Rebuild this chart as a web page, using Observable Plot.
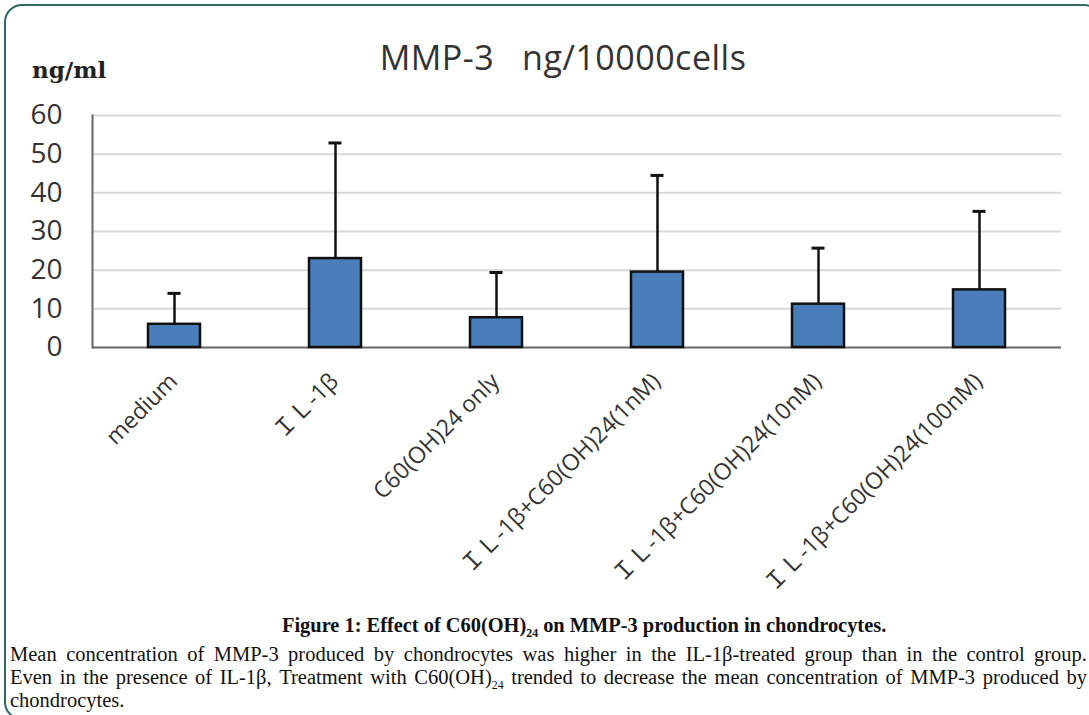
<!DOCTYPE html>
<html><head><meta charset="utf-8">
<script src="https://cdn.jsdelivr.net/npm/d3@7"></script>
<script src="https://cdn.jsdelivr.net/npm/@observablehq/plot@0.6"></script>
<style>
html,body{margin:0;padding:0;background:#fff;}
body{width:1089px;height:715px;overflow:hidden;position:relative;}
#frame{position:absolute;left:4px;top:4px;width:1098px;height:716px;border:2px solid #2e6a5f;border-radius:18px;box-sizing:border-box;pointer-events:none;}
#title{position:absolute;left:0;width:1126px;text-align:center;top:40px;font-family:'Open Sans',sans-serif;font-size:34px;line-height:34px;white-space:pre;color:#333;letter-spacing:0.5px;}
#unit{position:absolute;left:32px;top:58px;font-family:'DejaVu Serif',serif;font-weight:bold;font-size:23px;line-height:23px;color:#222;}
#chart{position:absolute;left:0;top:90px;}
.cap{position:absolute;font-family:'Liberation Serif',serif;color:#111;white-space:nowrap;}
#capTitle{left:282px;top:615px;font-weight:bold;font-size:20.4px;line-height:20px;}
.body{left:10px;width:1077px;font-size:20.5px;line-height:20.5px;height:20.5px;text-align:justify;text-align-last:justify;white-space:normal;word-spacing:-2px;}
sub{font-size:0.58em;vertical-align:-0.4em;line-height:0;}
</style>
</head><body>
<div id="frame"></div>
<div id="title"></div>
<div id="unit"></div>
<div id="chart"></div>
<div id="capTitle" class="cap"></div>
<div id="cap1" class="cap body"></div>
<div id="cap2" class="cap body"></div>
<div id="cap3" class="cap" style="left:10px;top:689.8px;font-size:20.5px;line-height:20.5px;"></div>
<script>
const chartTitle = "MMP-3   ng/10000cells";
const unitLabel = "ng/ml";
const categories = ["medium", "ＩＬ-1β", "C60(OH)24 only", "ＩＬ-1β+C60(OH)24(1nM)", "ＩＬ-1β+C60(OH)24(10nM)", "ＩＬ-1β+C60(OH)24(100nM)"];
const means = [6.0, 23.0, 7.7, 19.5, 11.2, 14.9];
const sds = [8.0, 29.9, 11.7, 25.0, 14.5, 20.3];
const yTicks = [0, 10, 20, 30, 40, 50, 60];
const captionTitle = "Figure 1: Effect of C60(OH)<sub>24</sub> on MMP-3 production in chondrocytes.";
const captionLines = [
  "Mean concentration of MMP-3 produced by chondrocytes was higher in the IL-1β-treated group than in the control group.",
  "Even in the presence of IL-1β, Treatment with C60(OH)<sub>24</sub> trended to decrease the mean concentration of MMP-3 produced by",
  "chondrocytes."
];

document.getElementById("title").textContent = chartTitle;
document.getElementById("unit").textContent = unitLabel;
document.getElementById("capTitle").innerHTML = captionTitle;
const c1 = document.getElementById("cap1"); c1.innerHTML = captionLines[0]; c1.style.top = "644.3px";
const c2 = document.getElementById("cap2"); c2.innerHTML = captionLines[1]; c2.style.top = "667.1px";
document.getElementById("cap3").innerHTML = captionLines[2];

const data = categories.map((c, i) => ({cat: c, mean: means[i], upper: means[i] + sds[i]}));
const font = "'Open Sans','Noto Sans CJK JP',sans-serif";

const chart = Plot.plot({
  width: 1089,
  height: 510,
  marginTop: 25,
  marginBottom: 253,
  marginLeft: 92,
  marginRight: 28,
  style: {background: "transparent", fontFamily: font, color: "#333"},
  x: {domain: categories, paddingInner: 0.677, paddingOuter: 0.3385, align: 0.5, axis: null},
  y: {domain: [0, 60]},
  marks: [
    Plot.gridY(yTicks.slice(1), {stroke: "#d9d9d9", strokeOpacity: 1, strokeWidth: 2}),
    Plot.axisY(yTicks, {tickSize: 0, tickPadding: 30, fontSize: 28, fill: "#333", label: null}),
    Plot.frame({anchor: "left", stroke: "#666", strokeWidth: 2}),
    Plot.ruleY([0], {stroke: "#666", strokeWidth: 2}),
    Plot.ruleX(data, {x: "cat", y1: "mean", y2: "upper", stroke: "#111", strokeWidth: 2.5}),
    Plot.tickY(data, {x: "cat", y: "upper", stroke: "#111", strokeWidth: 3, insetLeft: 19.5, insetRight: 19.5}),
    Plot.barY(data, {x: "cat", y: "mean", fill: "#4a7ebb", stroke: "#111", strokeWidth: 2.5}),
    Plot.text(categories, {x: d => d, y: () => 0, dy: 30, dx: -1, rotate: -45, textAnchor: "end", lineAnchor: "middle", fontSize: 23, fill: "#333"})
  ]
});
document.getElementById("chart").appendChild(chart);
</script>
</body></html>
